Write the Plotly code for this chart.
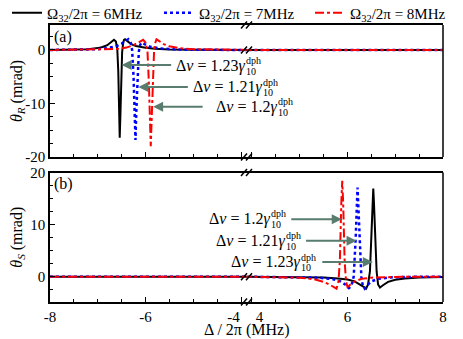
import plotly.graph_objects as go

# ---- data ----
series_names = ["Ω<sub>32</sub>/2π = 6MHz", "Ω<sub>32</sub>/2π = 7MHz", "Ω<sub>32</sub>/2π = 8MHz"]

# panel (a): theta_R near negative detuning
thR_black_x = [-8, -7.5, -7.2, -7.0, -6.9, -6.8, -6.72, -6.66, -6.62, -6.59, -6.57, -6.555, -6.54,
               -6.525, -6.51, -6.49, -6.47, -6.45, -6.43, -6.38, -6.3, -6.2, -6.0, -5.8, -5.5, -5.0, -3.8]
thR_black_y = [0, 0.05, 0.15, 0.35, 0.55, 0.9, 1.4, 1.9, 1.6, 0, -4, -10, -16.4,
               -12, -5, -0.5, 1.2, 1.9, 2.0, 1.6, 1.1, 0.75, 0.4, 0.25, 0.1, 0.03, 0]
thR_blue_x = [-8, -7.5, -7.0, -6.8, -6.6, -6.5, -6.42, -6.36, -6.31, -6.28, -6.25, -6.225, -6.21,
              -6.195, -6.17, -6.14, -6.11, -6.08, -6.02, -5.9, -5.7, -5.4, -5.0, -3.8]
thR_blue_y = [0, 0.03, 0.15, 0.35, 0.75, 1.2, 1.7, 2.0, 1.4, 0, -5, -12, -16.8,
              -12, -5, -0.3, 1.0, 1.4, 1.1, 0.6, 0.3, 0.12, 0.04, 0]
thR_red_x = [-8, -7.0, -6.6, -6.4, -6.25, -6.15, -6.05, -6.0, -5.96, -5.93, -5.905, -5.89,
             -5.875, -5.85, -5.82, -5.8, -5.77, -5.72, -5.62, -5.5, -5.3, -5.0, -4.6, -3.8]
thR_red_y = [0, 0.05, 0.2, 0.45, 0.9, 1.4, 1.9, 1.4, 0, -6, -14, -18,
             -14, -6, 0, 1.2, 2.0, 1.7, 1.1, 0.7, 0.35, 0.15, 0.05, 0]

# panel (b): theta_S near positive detuning
thS_black_x = [3.8, 5.0, 5.5, 5.8, 6.0, 6.15, 6.25, 6.33, 6.39, 6.43, 6.47, 6.5, 6.525, 6.54,
               6.555, 6.58, 6.61, 6.64, 6.68, 6.75, 6.85, 7.0, 7.2, 7.5, 8.0]
thS_black_y = [0, -0.05, -0.15, -0.35, -0.55, -0.9, -1.4, -1.9, -2.3, -1.5, 1, 8, 14, 16.9,
               14, 7, 1, -1.5, -2.1, -1.6, -1.0, -0.6, -0.35, -0.15, -0.05]
thS_blue_x = [3.8, 5.0, 5.4, 5.7, 5.85, 5.95, 6.03, 6.08, 6.13, 6.17, 6.195, 6.21,
              6.225, 6.25, 6.29, 6.32, 6.36, 6.42, 6.5, 6.65, 6.9, 7.3, 8.0]
thS_blue_y = [0, -0.05, -0.2, -0.5, -0.9, -1.5, -2.2, -1.8, 0, 7, 14, 17.1,
              14, 7, 0, -1.8, -2.3, -1.6, -0.9, -0.4, -0.15, -0.05, 0]
thS_red_x = [3.8, 4.6, 5.0, 5.3, 5.5, 5.62, 5.72, 5.77, 5.81, 5.84, 5.87, 5.89,
             5.91, 5.94, 5.97, 6.0, 6.05, 6.15, 6.3, 6.5, 7.0, 8.0]
thS_red_y = [0, -0.05, -0.2, -0.5, -1.0, -1.5, -2.1, -2.3, -1.0, 3, 14, 18.4,
             14, 3, -1.0, -2.0, -1.6, -0.9, -0.4, -0.2, -0.05, 0]

# flat parts on the other side of the break
flat_left_x = [-8, -3.8]
flat_right_x = [3.8, 8]
flat_y = [0, 0]

# tick labels (hyphen minus as in the reference; -4 / 4 nudged apart at the break)
NB = "\u00a0"
xl_tickvals = [-8, -6, -4]
xl_ticktext = ["-8", "-6", "-4" + NB * 4]
xr_tickvals = [4, 6, 8]
xr_ticktext = [NB * 4 + "4", "6", "8"]
ya_tickvals = [-20, -10, 0]
ya_ticktext = ["-20", "-10", "0"]
yb_tickvals = [0, 10, 20]
yb_ticktext = ["0", "10", "20"]

# arrow labels: (text number, tip x, tip y)
labels_a = [("1.23", -6.50, -2.8), ("1.21", -6.15, -6.9), ("1.2", -5.84, -10.6)]
labels_b = [("1.2", 5.88, 11.0), ("1.21", 6.19, 6.9), ("1.23", 6.53, 2.8)]

# ---- layout geometry ----
# the page shows the figure 8 px in from the top-left corner, so the figure
# is laid out 8 px up/left of the reference positions
W, H = 463, 339
OFF = 8
ML, MT = 50 - OFF, 25 - OFF
MR, MB = W - (443 - OFF), H - (302 - OFF)
PW, PH = W - ML - MR, H - MT - MB
FONT = "Liberation Serif"


def px_x(px):
    # reference pixel x -> paper x
    return (px - OFF - ML) / PW


def px_y(py):
    # reference pixel y -> paper y
    return (H - MB - (py - OFF)) / PH


colors = ["black", "#0000ff", "#ff0000"]
dashes = ["solid", "dot", "dashdot"]
widths = [2, 2.5, 2]
legend_ids = ["legend", "legend2", "legend3"]
legend_px = [7, 159, 310]

fig = go.Figure()
panel_a = [(thR_black_x, thR_black_y), (thR_blue_x, thR_blue_y), (thR_red_x, thR_red_y)]
panel_b = [(thS_black_x, thS_black_y), (thS_blue_x, thS_blue_y), (thS_red_x, thS_red_y)]
for i in range(3):
    line = dict(color=colors[i], dash=dashes[i], width=widths[i])
    # (a)
    fig.add_trace(go.Scatter(x=panel_a[i][0], y=panel_a[i][1], mode="lines", line=line,
                             name=series_names[i], legend=legend_ids[i], xaxis="x", yaxis="y"))
    fig.add_trace(go.Scatter(x=flat_right_x, y=flat_y, mode="lines", line=line, showlegend=False,
                             xaxis="x2", yaxis="y"))
    # (b)
    fig.add_trace(go.Scatter(x=flat_left_x, y=flat_y, mode="lines", line=line, showlegend=False,
                             xaxis="x3", yaxis="y2"))
    fig.add_trace(go.Scatter(x=panel_b[i][0], y=panel_b[i][1], mode="lines", line=line,
                             showlegend=False, xaxis="x4", yaxis="y2"))

ya_dom = [px_y(157), 1]
yb_dom = [0, px_y(172.5)]

xcommon = dict(showline=True, mirror=True, linecolor="black", linewidth=1.5, ticks="inside",
               ticklen=5, tickwidth=1, tickcolor="black",
               minor=dict(dtick=0.5, tick0=0, ticks="inside", ticklen=3, tickcolor="black"),
               showgrid=False, zeroline=False, tickfont=dict(family=FONT, size=15, color="black"))
ycommon = dict(showline=True, mirror=False, linecolor="black", linewidth=1.5, ticks="inside",
               ticklen=5, tickwidth=1, tickcolor="black",
               minor=dict(dtick=2.5, tick0=0, ticks="inside", ticklen=3, tickcolor="black"),
               showgrid=False, zeroline=False, tickfont=dict(family=FONT, size=15, color="black"),
               title_standoff=4)

legends = {}
for lid, lpx in zip(legend_ids, legend_px):
    legends[lid] = dict(orientation="h", x=px_x(lpx), xanchor="left", y=px_y(13),
                        yanchor="middle", font=dict(size=15), bgcolor="rgba(0,0,0,0)",
                        itemwidth=30)

fig.update_layout(
    width=W, height=H,
    margin=dict(l=ML, r=MR, t=MT, b=MB, autoexpand=False),
    paper_bgcolor="white", plot_bgcolor="white",
    font=dict(family=FONT, size=15, color="black"),
    xaxis=dict(xcommon, domain=[0, 0.5], range=[-8, -3.885], anchor="y", showticklabels=False,
               tickvals=xl_tickvals, ticktext=xl_ticktext),
    xaxis2=dict(xcommon, domain=[0.5, 1], range=[3.885, 8], anchor="y", showticklabels=False,
                tickvals=xr_tickvals, ticktext=xr_ticktext),
    xaxis3=dict(xcommon, domain=[0, 0.5], range=[-8, -3.885], anchor="y2",
                tickvals=xl_tickvals, ticktext=xl_ticktext),
    xaxis4=dict(xcommon, domain=[0.5, 1], range=[3.885, 8], anchor="y2",
                tickvals=xr_tickvals, ticktext=xr_ticktext),
    yaxis=dict(ycommon, domain=ya_dom, range=[-20, 4.67], anchor="x",
               tickvals=ya_tickvals, ticktext=ya_ticktext,
               title=dict(text="<i>θ</i><sub><i>R</i></sub> (mrad)", font=dict(size=16))),
    yaxis2=dict(ycommon, domain=yb_dom, range=[-4.87, 20], anchor="x3",
                tickvals=yb_tickvals, ticktext=yb_ticktext,
                title=dict(text="<i>θ</i><sub><i>S</i></sub> (mrad)", font=dict(size=16))),
    showlegend=True,
    **legends,
)

shapes = []
# right border of both panels
for dom in (ya_dom, yb_dom):
    shapes.append(dict(type="line", xref="paper", yref="paper", x0=1, x1=1, y0=dom[0], y1=dom[1],
                       line=dict(color="black", width=1.5)))
# break marks "//"
cx = 246.5
break_rows = [25, 50, 157, 172.5, 276.7, 302]
for cy in break_rows:
    for dx in (-2.5, 2.5):
        shapes.append(dict(type="line", xref="paper", yref="paper",
                           x0=px_x(cx + dx - 3), y0=px_y(cy + 3.5),
                           x1=px_x(cx + dx + 3), y1=px_y(cy - 3.5),
                           line=dict(color="black", width=1.5)))
fig.update_layout(shapes=shapes)

ARROW = "#587d6e"
ann = []
ann.append(dict(text="(a)", x=px_x(52), y=px_y(37), xref="paper", yref="paper", xanchor="left",
                yanchor="middle", showarrow=False, font=dict(size=16)))
ann.append(dict(text="(b)", x=px_x(52), y=px_y(184), xref="paper", yref="paper", xanchor="left",
                yanchor="middle", showarrow=False, font=dict(size=16)))
ann.append(dict(text="Δ / 2π (MHz)", x=px_x(246), y=px_y(330), xref="paper", yref="paper",
                xanchor="center", yanchor="middle", showarrow=False, font=dict(size=16)))

# label text positions (gamma end px, centre py)
pos_a = [(247, 66), (264, 87), (279, 107)]
pos_b = [(272, 219), (287, 241), (302, 262)]


def add_label(num, gx, gy):
    ann.append(dict(text="Δ<i>ν</i> = " + num + "<i>γ</i>", x=px_x(gx), y=px_y(gy), xref="paper",
                    yref="paper", xanchor="right", yanchor="middle", showarrow=False,
                    font=dict(size=16)))
    ann.append(dict(text="dph", x=px_x(gx - 3), y=px_y(gy - 5), xref="paper", yref="paper",
                    xanchor="left", yanchor="middle", showarrow=False, font=dict(size=10)))
    ann.append(dict(text="10", x=px_x(gx - 3), y=px_y(gy + 5), xref="paper", yref="paper",
                    xanchor="left", yanchor="middle", showarrow=False, font=dict(size=10)))


for (num, tx, ty), (gx, gy) in zip(labels_a, pos_a):
    ann.append(dict(x=tx, y=ty, xref="x", yref="y", ax=51, ay=0, text="", showarrow=True,
                    arrowhead=2, arrowsize=1, arrowwidth=2, arrowcolor=ARROW, standoff=0))
    add_label(num, gx, gy)

for (num, tx, ty), (gx, gy) in zip(labels_b, pos_b):
    ann.append(dict(x=tx, y=ty, xref="x4", yref="y2", ax=-52, ay=0, text="", showarrow=True,
                    arrowhead=2, arrowsize=1, arrowwidth=2, arrowcolor=ARROW, standoff=0))
    add_label(num, gx, gy)

fig.update_layout(annotations=ann)

fig.write_html("out.html")
